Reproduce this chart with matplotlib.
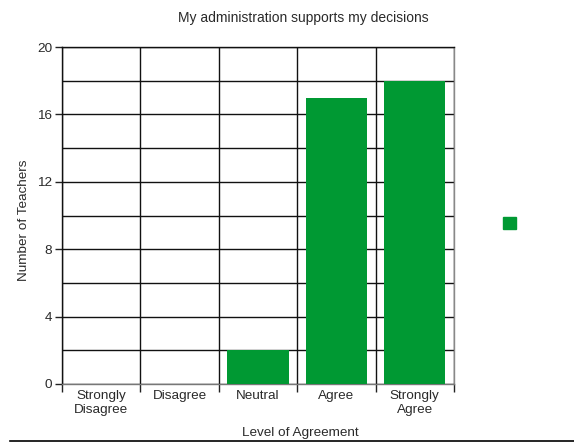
import matplotlib
matplotlib.use('Agg')
import matplotlib.pyplot as plt
from matplotlib.patches import Patch
from matplotlib.lines import Line2D
import numpy as np

plt.rcParams['font.family'] = ['Liberation Sans', 'DejaVu Sans']
plt.rcParams['font.size'] = 9.7

levels = ['Strongly\nDisagree', 'Disagree', 'Neutral', 'Agree', 'Strongly\nAgree']
teachers = [0, 0, 2, 17, 18]
y_major = [0, 4, 8, 12, 16, 20]
y_minor = [2, 6, 10, 14, 18]

green = '#009933'
txt = '#2a2a2a'

fig = plt.figure(figsize=(5.74, 4.46), dpi=100)
ax = fig.add_axes([62/574, 62/446, 392/574, 337/446])

x = np.arange(len(levels))
ax.bar(x, teachers, width=0.78, color=green, zorder=3, label='')

ax.set_xlim(-0.5, len(levels) - 0.5)
ax.set_ylim(0, 20)

# category boundaries carry the ticks and vertical grid
bounds = np.arange(len(levels) + 1) - 0.5
ax.set_xticks(bounds)
ax.set_xticklabels([''] * len(bounds))
ax.set_xticks(x, minor=True)
ax.set_xticklabels(levels, minor=True, color=txt, linespacing=1.3)
ax.tick_params(axis='x', which='major', length=6, width=1, color='#222222')
ax.tick_params(axis='x', which='minor', length=0, pad=4)

ax.set_yticks(y_major)
ax.set_yticks(y_minor, minor=True)
ax.tick_params(axis='y', which='major', length=5, width=1, color='#222222',
               labelcolor=txt, pad=2)
ax.tick_params(axis='y', which='minor', length=0)

ax.grid(True, which='major', axis='x', color='#111111', linewidth=1, zorder=1)
ax.grid(True, which='both', axis='y', color='#111111', linewidth=1, zorder=1)
ax.set_axisbelow(True)

ax.spines['left'].set_color('#111111')
ax.spines['top'].set_color('#111111')
ax.spines['bottom'].set_color('#777777')
ax.spines['right'].set_color('#888888')
for s in ax.spines.values():
    s.set_linewidth(1)

ax.set_xlabel('Level of Agreement', color=txt)
ax.xaxis.set_label_coords((300 - 62)/392, -(433 - 384)/337)
ax.xaxis.label.set_va('center')
ax.set_ylabel('Number of Teachers', color=txt)
ax.yaxis.set_label_coords(-(62 - 24)/392, (384 - 220)/337)
ax.yaxis.label.set_va('center')

fig.text(303/574, 1 - 18/446, 'My administration supports my decisions',
         ha='center', va='center', color=txt, fontsize=10)

fig.legend(handles=[Patch(color=green)], labels=[''], loc='center',
           bbox_to_anchor=(509.5/574, 1 - 223.5/446), frameon=False,
           handlelength=1.0, handleheight=1.0, handletextpad=0,
           borderpad=0, borderaxespad=0)

fig.add_artist(Line2D([10/574, 1], [1 - 440.5/446] * 2, color='black',
                      linewidth=1.2, transform=fig.transFigure))

fig.savefig('out.png', dpi=100)
